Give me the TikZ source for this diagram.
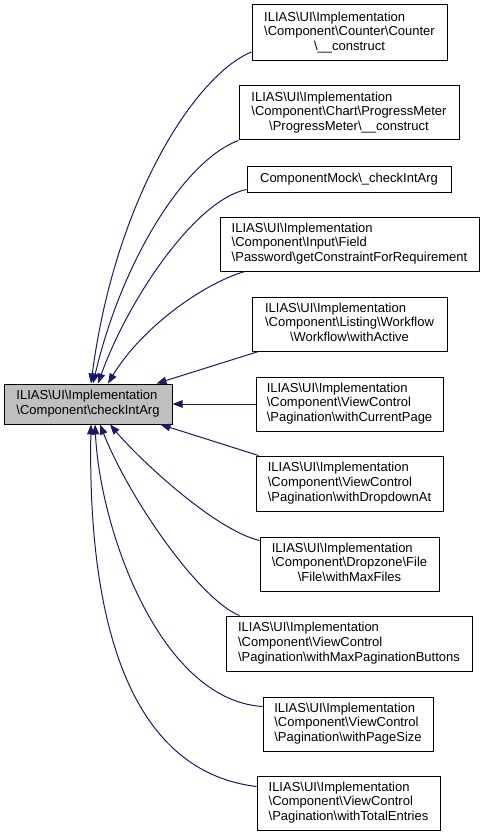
\documentclass[tikz,border=0pt]{standalone}
\usepackage{fontspec}
\setmainfont{Liberation Sans}
\usetikzlibrary{arrows.meta}
\definecolor{edgeblue}{HTML}{191970}
\definecolor{maingray}{HTML}{BFBFBF}
\newcommand{\bs}{\textbackslash}
\newcommand{\dlabthree}[3]{\begin{tabular}{@{}l@{}}#1\\#2\\\multicolumn{1}{@{}c@{}}{#3}\end{tabular}}
\newcommand{\dlabtwo}[2]{\begin{tabular}{@{}l@{}}#1\\\multicolumn{1}{@{}c@{}}{#2}\end{tabular}}
\begin{document}
\begin{tikzpicture}[x=1pt,y=-1pt,
  fnbox/.style={draw=black, fill=white, line width=1pt, inner sep=0pt, text=black,
    font=\fontsize{13}{14.6}\selectfont},
  mainbox/.style={fnbox, fill=maingray},
  edge/.style={draw=edgeblue, line width=1pt, -{Triangle[length=10pt,width=7.5pt]}, fill=none},
]
\useasboundingbox (0,0) rectangle (484,837);

\node[mainbox, minimum width=168pt, minimum height=40pt] (m) at (88,404)
  {\dlabtwo{ILIAS\bs UI\bs Implementation}{\bs Component\bs checkIntArg}};

\node[fnbox, minimum width=195pt, minimum height=56pt] (b1) at (349.5,33)
  {\dlabthree{ILIAS\bs UI\bs Implementation}{\bs Component\bs Counter\bs Counter}{\bs\_\_construct}};
\node[fnbox, minimum width=220pt, minimum height=54pt] (b2) at (349,113)
  {\dlabthree{ILIAS\bs UI\bs Implementation}{\bs Component\bs Chart\bs ProgressMeter}{\bs ProgressMeter\bs\_\_construct}};
\node[fnbox, minimum width=204pt, minimum height=25pt] (b3) at (349,179.5)
  {ComponentMock\bs\_checkIntArg};
\node[fnbox, minimum width=259pt, minimum height=54pt] (b4) at (349.5,244)
  {\dlabthree{ILIAS\bs UI\bs Implementation}{\bs Component\bs Input\bs Field}{\bs Password\bs getConstraintForRequirement}};
\node[fnbox, minimum width=195pt, minimum height=54pt] (b5) at (349.5,324)
  {\dlabthree{ILIAS\bs UI\bs Implementation}{\bs Component\bs Listing\bs Workflow}{\bs Workflow\bs withActive}};
\node[fnbox, minimum width=187pt, minimum height=54pt] (b6) at (349.5,404)
  {\dlabthree{ILIAS\bs UI\bs Implementation}{\bs Component\bs ViewControl}{\bs Pagination\bs withCurrentPage}};
\node[fnbox, minimum width=187pt, minimum height=55pt] (b7) at (349.5,483.5)
  {\dlabthree{ILIAS\bs UI\bs Implementation}{\bs Component\bs ViewControl}{\bs Pagination\bs withDropdownAt}};
\node[fnbox, minimum width=179pt, minimum height=54pt] (b8) at (349.5,564)
  {\dlabthree{ILIAS\bs UI\bs Implementation}{\bs Component\bs Dropzone\bs File}{\bs File\bs withMaxFiles}};
\node[fnbox, minimum width=246pt, minimum height=55pt] (b9) at (349,643.5)
  {\dlabthree{ILIAS\bs UI\bs Implementation}{\bs Component\bs ViewControl}{\bs Pagination\bs withMaxPaginationButtons}};
\node[fnbox, minimum width=170pt, minimum height=54pt] (b10) at (348,724)
  {\dlabthree{ILIAS\bs UI\bs Implementation}{\bs Component\bs ViewControl}{\bs Pagination\bs withPageSize}};
\node[fnbox, minimum width=183pt, minimum height=54pt] (b11) at (348.5,803)
  {\dlabthree{ILIAS\bs UI\bs Implementation}{\bs Component\bs ViewControl}{\bs Pagination\bs withTotalEntries}};

% edges into the top of the main box
\draw[edge] ([yshift=-19pt]b1.west) .. controls (195,75) and (115,200) .. ([xshift=3pt]m.north);
\draw[edge] (b2.south west) .. controls (185,160) and (122,260) .. ([xshift=5pt]m.north);
\draw[edge] ([yshift=-10pt]b3.west) .. controls (195,200) and (128,300) .. ([xshift=10pt]m.north);
\draw[edge] ([xshift=25pt]b4.south west) .. controls (200,285) and (140,330) .. ([xshift=20pt]m.north);
\draw[edge] ([xshift=7pt]b5.south west) -- ([xshift=-16pt]m.north east);
% horizontal edge
\draw[edge] (b6.west) -- (m.east);
% edges into the bottom of the main box
\draw[edge] ([xshift=3pt]b7.north west) -- ([xshift=-12pt]m.south east);
\draw[edge] ([yshift=-4pt]b8.north west) .. controls (215,530) and (140,460) .. ([xshift=22pt]m.south);
\draw[edge] ([xshift=14pt]b9.north west) .. controls (200,600) and (130,500) .. ([xshift=12pt]m.south);
\draw[edge] ([yshift=-10pt]b10.north west) .. controls (160,700) and (100,530) .. ([xshift=7pt]m.south);
\draw[edge] ([yshift=-11pt]b11.north west) .. controls (120,770) and (88,600) .. ([xshift=3pt]m.south);
\end{tikzpicture}
\end{document}
